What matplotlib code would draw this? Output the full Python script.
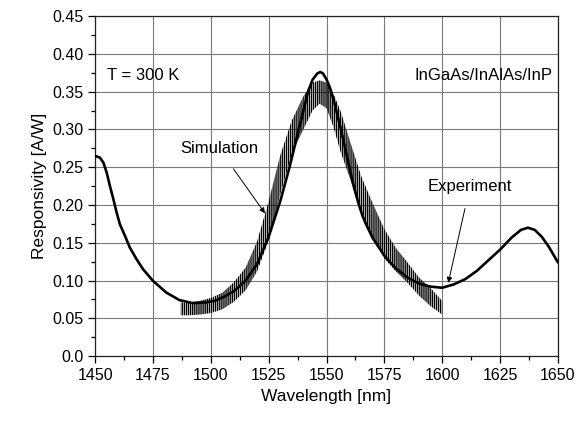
import matplotlib
matplotlib.use("Agg")
import matplotlib.pyplot as plt
from matplotlib.ticker import MultipleLocator, FuncFormatter

plt.rcParams['font.family'] = ['Liberation Sans', 'DejaVu Sans']
plt.rcParams['hatch.color'] = 'black'
plt.rcParams['hatch.linewidth'] = 1.0

# measured responsivity (experiment)
exp_wl = [1450, 1452.1, 1453.6, 1455, 1456.4, 1457.9, 1459.3, 1460.7, 1462.9, 1465,
          1467.9, 1470.7, 1475, 1480.7, 1486.4, 1492.1, 1497.9, 1502, 1506, 1510,
          1515, 1520, 1525, 1530, 1534, 1538, 1540, 1542, 1544, 1546, 1547.3,
          1548.5, 1550, 1551.5, 1553, 1556, 1560, 1562, 1564, 1565.5, 1567, 1570,
          1575, 1580, 1585, 1590, 1595, 1600, 1605, 1610, 1615, 1620, 1625, 1630,
          1634, 1637, 1640, 1643, 1646, 1650]
exp_r = [0.265, 0.2626, 0.256, 0.2428, 0.2252, 0.2076, 0.190, 0.1746, 0.1592, 0.1437,
         0.1283, 0.1151, 0.0997, 0.0843, 0.0742, 0.0702, 0.0711, 0.0735, 0.079, 0.086,
         0.100, 0.122, 0.158, 0.205, 0.250, 0.300, 0.325, 0.350, 0.366, 0.374, 0.376,
         0.374, 0.366, 0.355, 0.340, 0.303, 0.248, 0.222, 0.200, 0.186, 0.175, 0.156,
         0.133, 0.116, 0.104, 0.096, 0.092, 0.0905, 0.095, 0.102, 0.113, 0.127, 0.141, 0.157,
         0.167, 0.170, 0.167, 0.158, 0.145, 0.124]

# simulated responsivity: envelope of the Fabry-Perot fringes
sim_wl = [1487, 1490, 1495, 1500, 1505, 1510, 1515, 1520, 1525, 1530, 1535, 1540,
          1544, 1547, 1550, 1553, 1556, 1560, 1565, 1570, 1575, 1580, 1585, 1590,
          1595, 1600]
sim_low = [0.054, 0.054, 0.055, 0.057, 0.062, 0.072, 0.087, 0.112, 0.153, 0.214, 0.268, 0.300,
           0.325, 0.334, 0.328, 0.303, 0.271, 0.236, 0.189, 0.158, 0.129, 0.112, 0.097, 0.080,
           0.066, 0.055]
sim_up = [0.071, 0.071, 0.073, 0.077, 0.084, 0.098, 0.117, 0.152, 0.205, 0.266, 0.312, 0.344,
          0.362, 0.365, 0.362, 0.347, 0.325, 0.286, 0.238, 0.202, 0.168, 0.143, 0.124, 0.104,
          0.090, 0.073]

fig = plt.figure(figsize=(5.8, 4.23), dpi=100)
ax = fig.add_axes([0.164, 0.158, 0.798, 0.804])

ax.fill_between(sim_wl, sim_low, sim_up, facecolor='none', edgecolor='black',
                hatch='||||||||', linewidth=0, zorder=3)
ax.plot(exp_wl, exp_r, color='black', lw=1.9, zorder=4,
        solid_joinstyle='round', solid_capstyle='round')

ax.set_xlim(1450, 1650)
ax.set_ylim(0, 0.45)
ax.xaxis.set_major_locator(MultipleLocator(25))
ax.xaxis.set_minor_locator(MultipleLocator(12.5))
ax.yaxis.set_major_locator(MultipleLocator(0.05))
ax.yaxis.set_minor_locator(MultipleLocator(0.025))
ax.yaxis.set_major_formatter(FuncFormatter(lambda v, p: '0.0' if abs(v) < 1e-9 else f'{v:.2f}'))
ax.tick_params(which='major', direction='out', length=5, width=0.9, labelsize=11.5, top=False, right=False)
ax.tick_params(which='minor', direction='out', length=3, width=0.9, top=False, right=False)
ax.grid(True, which='major', color='#7a7a7a', lw=0.8)
ax.set_axisbelow(True)
for s in ax.spines.values():
    s.set_linewidth(0.9)
    s.set_color('#222222')

ax.set_xlabel('Wavelength [nm]', fontsize=12.5)
ax.set_ylabel('Responsivity [A/W]', fontsize=12.5)

ax.text(1455, 0.372, 'T = 300 K', fontsize=12, va='center', ha='left')
ax.text(1647.5, 0.372, 'InGaAs/InAlAs/InP', fontsize=12, va='center', ha='right')

ax.annotate('Simulation', xy=(1523.4, 0.189), xytext=(1503.5, 0.275),
            fontsize=12, ha='center', va='center',
            arrowprops=dict(arrowstyle='-|>', color='black', lw=0.7,
                            mutation_scale=8, shrinkA=9, shrinkB=0))
ax.annotate('Experiment', xy=(1602.6, 0.097), xytext=(1612, 0.225),
            fontsize=12, ha='center', va='center',
            arrowprops=dict(arrowstyle='-|>', color='black', lw=0.7,
                            mutation_scale=8, shrinkA=9, shrinkB=0))

fig.savefig('out.png', dpi=100)
